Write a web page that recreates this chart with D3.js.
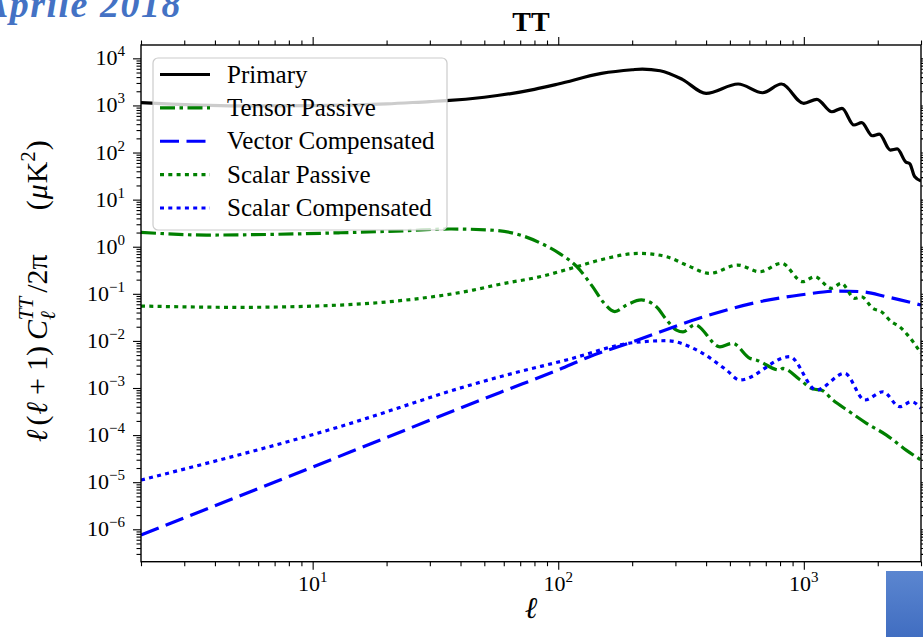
<!DOCTYPE html>
<html>
<head>
<meta charset="utf-8">
<script src="https://cdn.jsdelivr.net/npm/d3@7"></script>
<style>
  body { margin: 0; background: #fff; }
  svg { display: block; }
</style>
</head>
<body>
<svg id="chart" width="923" height="637"></svg>
<script>
// multipole values (ell) and D_ell = l(l+1)C_l/2pi in muK^2
const primaryL = [2, 5, 10, 20, 30, 35, 50, 80, 100, 150, 200, 220, 260, 320, 400, 540, 680, 810, 1000, 1130, 1300, 1430, 1600, 1720, 1900, 2030, 2250, 2400, 2600, 2700, 2825, 3000];
const primaryV = [1150, 980, 990, 1080, 1210, 1260, 1490, 2200, 2850, 4790, 5730, 5930, 5460, 3580, 1805, 2850, 1860, 2850, 1110, 1350, 735, 867, 384, 430, 227, 247, 113, 119, 63, 58, 31, 25];

const tensorL = [2, 3.7, 6.9, 13, 24, 36, 53, 72, 84, 101, 119, 138, 152, 170, 190, 218, 251, 276, 303, 322, 360, 455, 513, 602, 643, 798, 822, 964, 1090, 1180, 1310, 1540, 1800, 2170, 2610, 3000];
const tensorV = [2.02, 1.77, 1.83, 1.98, 2.19, 2.38, 2.26, 1.69, 1.22, 0.724, 0.376, 0.142, 0.068, 0.042, 0.058, 0.074, 0.053, 0.028, 0.017, 0.0156, 0.022, 0.0075, 0.0089, 0.0043, 0.0039, 0.0024, 0.0026, 0.0015, 0.00095, 0.0009, 0.00056, 0.00031, 0.000178, 0.0001, 4.8e-5, 2.96e-5];

const vectorL = [2, 10, 20, 58, 100, 134, 201, 377, 661, 964, 1400, 1715, 2169, 3000];
const vectorV = [7.57e-7, 2.1e-5, 8.9e-5, 8.07e-4, 2.43e-3, 4.62e-3, 9.6e-3, 0.0306, 0.068, 0.0944, 0.1146, 0.111, 0.0867, 0.0578];

const scalarPL = [2, 5, 13, 24, 45, 58, 84, 119, 148, 214, 276, 333, 414, 538, 661, 811, 989, 1107, 1294, 1422, 1611, 1715, 1911, 2068, 2270, 2455, 2648, 3000];
const scalarPV = [0.055, 0.0516, 0.0578, 0.0738, 0.12, 0.16, 0.23, 0.376, 0.522, 0.724, 0.614, 0.408, 0.272, 0.408, 0.294, 0.445, 0.181, 0.231, 0.131, 0.167, 0.0802, 0.0867, 0.0492, 0.0417, 0.0256, 0.02, 0.0133, 0.0055];

const scalarCL = [2, 12.9, 44, 58, 108, 201, 276, 377, 484, 548, 876, 1125, 1467, 1770, 2101, 2455, 2744, 3000];
const scalarCV = [1.11e-5, 1.51e-4, 1.16e-3, 1.74e-3, 3.94e-3, 9.16e-3, 1.01e-2, 5.9e-3, 2.41e-3, 1.48e-3, 4.62e-3, 9.08e-4, 2.05e-3, 5.56e-4, 8.33e-4, 4.01e-4, 5.12e-4, 3.7e-4];

const seriesNames = ['Primary', 'Tensor Passive', 'Vector Compensated', 'Scalar Passive', 'Scalar Compensated'];
const xMajor = [10, 100, 1000];
const yMajor = [1e-6, 1e-5, 1e-4, 1e-3, 1e-2, 1e-1, 1, 10, 100, 1000, 10000];

const series = [
  { name: seriesNames[0], L: primaryL, V: primaryV, color: '#000000', dash: null },
  { name: seriesNames[1], L: tensorL, V: tensorV, color: '#008000', dash: '15,4.5,3.5,4.5' },
  { name: seriesNames[2], L: vectorL, V: vectorV, color: '#0000ff', dash: '19,7.5' },
  { name: seriesNames[3], L: scalarPL, V: scalarPV, color: '#008000', dash: '4,4.3' },
  { name: seriesNames[4], L: scalarCL, V: scalarCV, color: '#0000ff', dash: '4,4.3' }
];

const serif = '"Liberation Serif", "DejaVu Serif", serif';
const M = { left: 141, right: 921, top: 45, bottom: 561.7 };

const svg = d3.select('#chart');
const x = d3.scaleLog().domain([2, 3000]).range([M.left, M.right]);
const y = d3.scaleLog().domain([2.05e-7, 1.92e4]).range([M.bottom, M.top]);

// slide decorations around the figure
const grad = svg.append('defs').append('linearGradient').attr('id', 'bluebox')
  .attr('x1', 0).attr('y1', 0).attr('x2', 0).attr('y2', 1);
grad.append('stop').attr('offset', '0%').attr('stop-color', '#5b86d0');
grad.append('stop').attr('offset', '100%').attr('stop-color', '#3f6cc0');
svg.select('defs').append('clipPath').attr('id', 'plotclip')
  .append('rect').attr('x', M.left).attr('y', M.top)
  .attr('width', M.right - M.left).attr('height', M.bottom - M.top);

svg.append('text').attr('x', 182).attr('y', 17).attr('text-anchor', 'end')
  .style('font-family', serif).style('font-size', '38px').style('font-style', 'italic')
  .style('font-weight', 'bold').style('letter-spacing', '1.5px').attr('fill', '#4472c4').text('Aprile 2018');
svg.append('rect').attr('x', 886).attr('y', 571).attr('width', 40).attr('height', 70)
  .attr('fill', 'url(#bluebox)');

// minor tick values
const xMinor = [];
[1, 10, 100, 1000].forEach(p => { for (let m = 2; m <= 9; m++) { const v = m * p; if (v >= 2 && v <= 3000) xMinor.push(v); } });
const yMinor = [];
for (let k = -7; k <= 4; k++) for (let m = 2; m <= 9; m++) { const v = m * Math.pow(10, k); if (v >= 2.05e-7 && v <= 1.92e4) yMinor.push(v); }

function ticks(gen, vals, size, tr) {
  svg.append('g').attr('transform', tr)
    .call(gen.tickValues(vals).tickSize(size).tickSizeOuter(0).tickFormat(''))
    .call(g => g.select('.domain').remove())
    .selectAll('line').attr('stroke', '#000').attr('stroke-width', 1.1);
}
ticks(d3.axisBottom(x), xMajor, 8, `translate(0,${M.bottom})`);
ticks(d3.axisBottom(x), xMinor, 4.5, `translate(0,${M.bottom})`);
ticks(d3.axisTop(x), xMajor, 8, `translate(0,${M.top})`);
ticks(d3.axisTop(x), xMinor, 4.5, `translate(0,${M.top})`);
ticks(d3.axisLeft(y), yMajor, 8, `translate(${M.left},0)`);
ticks(d3.axisLeft(y), yMinor, 4.5, `translate(${M.left},0)`);
ticks(d3.axisRight(y), yMajor, 8, `translate(${M.right},0)`);
ticks(d3.axisRight(y), yMinor, 4.5, `translate(${M.right},0)`);

function expo(v) {
  const e = Math.round(Math.log10(v));
  return (e < 0 ? '\u2212' : '') + Math.abs(e);
}

svg.append('g').selectAll('text').data(xMajor).join('text')
  .attr('x', d => x(d)).attr('y', 591).attr('text-anchor', 'middle')
  .style('font-family', serif).style('font-size', '22px')
  .each(function (d) {
    const t = d3.select(this);
    t.append('tspan').text('10');
    t.append('tspan').attr('dy', -9).style('font-size', '15px').text(expo(d));
  });

svg.append('g').selectAll('text').data(yMajor).join('text')
  .attr('x', 125).attr('y', d => y(d) + 7).attr('text-anchor', 'end')
  .style('font-family', serif).style('font-size', '22px')
  .each(function (d) {
    const t = d3.select(this);
    t.append('tspan').text('10');
    t.append('tspan').attr('dy', -9).style('font-size', '15px').text(expo(d));
  });

// curves
const line = d3.line().x(d => x(d[0])).y(d => y(d[1])).curve(d3.curveMonotoneX);
const plot = svg.append('g').attr('clip-path', 'url(#plotclip)');
series.forEach(s => {
  plot.append('path')
    .datum(s.L.map((l, i) => [l, s.V[i]]))
    .attr('fill', 'none').attr('stroke', s.color).attr('stroke-width', 3.2)
    .attr('stroke-dasharray', s.dash).attr('d', line);
});

// frame
svg.append('rect').attr('x', M.left).attr('y', M.top)
  .attr('width', M.right - M.left).attr('height', M.bottom - M.top)
  .attr('fill', 'none').attr('stroke', '#000').attr('stroke-width', 1.4);

// legend
const lg = svg.append('g');
lg.append('rect').attr('x', 153).attr('y', 58).attr('width', 294).attr('height', 172)
  .attr('rx', 5).attr('fill', '#fff').attr('fill-opacity', 0.8)
  .attr('stroke', '#cccccc').attr('stroke-width', 1.2);
const rows = d3.scaleLinear().domain([0, 4]).range([74.5, 208]);
series.forEach((s, i) => {
  lg.append('line').attr('x1', 160).attr('x2', 210).attr('y1', rows(i)).attr('y2', rows(i))
    .attr('stroke', s.color).attr('stroke-width', 3.2).attr('stroke-dasharray', s.dash);
  lg.append('text').attr('x', 227).attr('y', rows(i) + 8)
    .style('font-family', serif).style('font-size', '25px').text(s.name);
});

// title and axis labels
svg.append('text').attr('x', 531).attr('y', 31).attr('text-anchor', 'middle')
  .style('font-family', serif).style('font-size', '28px').style('font-weight', 'bold').text('TT');

svg.append('text').attr('x', 531).attr('y', 618).attr('text-anchor', 'middle')
  .style('font-family', serif).style('font-size', '30px').style('font-style', 'italic').text('\u2113');

const yl = svg.append('text').attr('transform', 'translate(47,291) rotate(-90)')
  .attr('text-anchor', 'middle').style('font-family', serif).style('font-size', '30px');
yl.append('tspan').style('font-style', 'italic').text('\u2113');
yl.append('tspan').attr('dx', 4).text('(');
yl.append('tspan').attr('dx', 1).style('font-style', 'italic').text('\u2113');
yl.append('tspan').attr('dx', 7).text('+');
yl.append('tspan').attr('dx', 7).text('1)');
yl.append('tspan').attr('dx', 6).style('font-style', 'italic').text('C');
yl.append('tspan').attr('dy', 8).style('font-size', '21px').style('font-style', 'italic').text('\u2113');
yl.append('tspan').attr('dx', -9).attr('dy', -22).style('font-size', '21px').style('font-style', 'italic').text('TT');
yl.append('tspan').attr('dx', 4).attr('dy', 14).text('/2\u03c0');
yl.append('tspan').attr('dx', 44).text('(');
yl.append('tspan').attr('dx', 1).style('font-style', 'italic').text('\u03bc');
yl.append('tspan').attr('dx', 1).text('K');
yl.append('tspan').attr('dy', -12).style('font-size', '21px').text('2');
yl.append('tspan').attr('dx', 1).attr('dy', 12).text(')');
</script>
</body>
</html>
